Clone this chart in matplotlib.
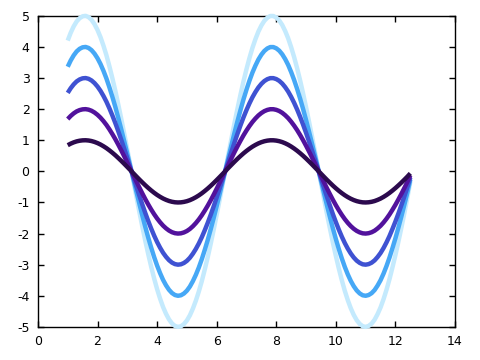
import matplotlib
matplotlib.use('Agg')
import matplotlib.pyplot as plt
import numpy as np

# shape of the smallest curve, read at steps of 0.1 from x = 1.0 to 12.5
x = np.round(np.arange(1.0, 12.55, 0.1), 1)
base = [0.841, 0.891, 0.932, 0.964, 0.985, 0.997, 1.000, 0.992, 0.974, 0.946,
        0.909, 0.863, 0.808, 0.746, 0.675, 0.598, 0.516, 0.427, 0.335, 0.239,
        0.141, 0.042, -0.058, -0.158, -0.256, -0.351, -0.443, -0.530, -0.612, -0.688,
        -0.757, -0.818, -0.872, -0.916, -0.952, -0.978, -0.994, -1.000, -0.996, -0.982,
        -0.959, -0.926, -0.883, -0.832, -0.773, -0.706, -0.631, -0.551, -0.465, -0.374,
        -0.279, -0.182, -0.083, 0.017, 0.117, 0.215, 0.312, 0.405, 0.494, 0.579,
        0.657, 0.729, 0.794, 0.850, 0.899, 0.938, 0.968, 0.988, 0.999, 0.999,
        0.989, 0.970, 0.941, 0.902, 0.855, 0.798, 0.734, 0.663, 0.585, 0.501,
        0.412, 0.319, 0.223, 0.124, 0.025, -0.075, -0.174, -0.272, -0.366, -0.458,
        -0.544, -0.625, -0.700, -0.768, -0.828, -0.880, -0.923, -0.957, -0.981, -0.996,
        -1.000, -0.994, -0.979, -0.954, -0.918, -0.875, -0.822, -0.761, -0.693, -0.617,
        -0.537, -0.451, -0.361, -0.267, -0.170, -0.066]

amplitudes = [5, 4, 3, 2, 1]
colors = ['#c4eafd', '#46a8f6', '#3f52d2', '#52129c', '#2c0a4e']

xticks = [0, 2, 4, 6, 8, 10, 12, 14]
yticks = [-5, -4, -3, -2, -1, 0, 1, 2, 3, 4, 5]

fig = plt.figure(figsize=(4.8, 3.6), dpi=100)
ax = fig.add_axes([0.079, 0.092, 0.869, 0.864])

for a, c in zip(amplitudes, colors):
    ax.plot(x, [a * v for v in base], color=c, lw=3.2, solid_capstyle='butt',
            solid_joinstyle='round', clip_on=False, zorder=3)

ax.set_xlim(0, 14)
ax.set_ylim(-5, 5)
ax.set_xticks(xticks)
ax.set_yticks(yticks)
ax.set_xticklabels([str(t) for t in xticks])
ax.set_yticklabels([str(t) for t in yticks])
ax.tick_params(direction='in', top=True, right=True, length=4, width=1,
               labelsize=9, pad=6, labeltop=False, labelright=False)
for s in ax.spines.values():
    s.set_linewidth(1)

fig.savefig('out.png', dpi=100)
